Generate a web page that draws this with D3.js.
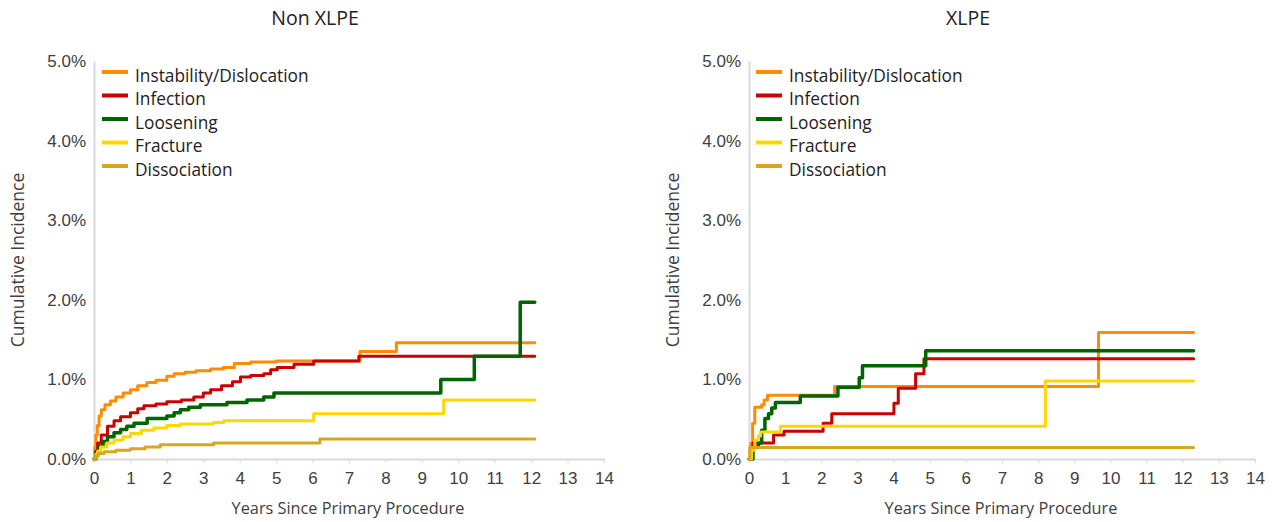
<!DOCTYPE html>
<html>
<head>
<meta charset="utf-8">
<script src="https://cdn.jsdelivr.net/npm/d3@7"></script>
<style>
  html, body { margin: 0; padding: 0; background: #fff; }
  svg { display: block; font-family: "Open Sans", "Noto Sans", sans-serif; }
</style>
</head>
<body>
<svg id="chart" width="1285" height="522"></svg>
<script>
// ---------------- DATA ----------------
const seriesNames = ["Instability/Dislocation", "Infection", "Loosening", "Fracture", "Dissociation"];
const seriesColors = ["#FF8C00", "#CC0000", "#006400", "#FFD700", "#DAA520"];
const panelTitles = ["Non XLPE", "XLPE"];
const xTicks = [0,1,2,3,4,5,6,7,8,9,10,11,12,13,14];
const yTicks = [0,1,2,3,4,5];

// Non XLPE: [years, cumulative incidence %]
const nonXlpeInstability = [[0,0],[0.02,0.15],[0.05,0.3],[0.09,0.42],[0.14,0.54],[0.2,0.62],[0.3,0.68],[0.45,0.73],[0.6,0.78],[0.8,0.83],[1.0,0.87],[1.2,0.92],[1.45,0.96],[1.7,0.99],[2.0,1.04],[2.2,1.07],[2.5,1.09],[2.8,1.11],[3.2,1.13],[3.55,1.15],[3.85,1.20],[4.3,1.22],[5.0,1.23],[7.3,1.35],[8.3,1.46],[12.1,1.46]];
const nonXlpeInfection = [[0,0],[0.05,0.1],[0.1,0.2],[0.2,0.3],[0.37,0.41],[0.55,0.48],[0.73,0.53],[1.0,0.58],[1.2,0.63],[1.37,0.67],[1.7,0.69],[2.0,0.72],[2.4,0.74],[2.74,0.78],[3.0,0.83],[3.2,0.87],[3.5,0.92],[3.8,0.97],[4.02,1.03],[4.3,1.05],[4.66,1.07],[4.85,1.12],[5.03,1.15],[5.49,1.19],[6.03,1.23],[7.27,1.29],[12.1,1.29]];
const nonXlpeLoosening = [[0,0],[0.05,0.08],[0.15,0.16],[0.25,0.22],[0.37,0.28],[0.55,0.33],[0.73,0.37],[0.9,0.41],[1.1,0.45],[1.46,0.51],[2.0,0.54],[2.2,0.58],[2.37,0.62],[2.6,0.65],[2.92,0.68],[3.65,0.71],[4.2,0.74],[4.66,0.78],[4.94,0.83],[9.52,1.00],[10.44,1.29],[11.7,1.97],[12.1,1.97]];
const nonXlpeFracture = [[0,0],[0.05,0.06],[0.1,0.1],[0.18,0.15],[0.35,0.2],[0.55,0.24],[0.8,0.28],[1.0,0.32],[1.3,0.36],[1.64,0.39],[2.0,0.42],[2.37,0.44],[3.28,0.46],[3.56,0.48],[6.03,0.57],[9.6,0.74],[12.1,0.74]];
const nonXlpeDissociation = [[0,0],[0.05,0.04],[0.12,0.07],[0.27,0.09],[0.6,0.11],[1.0,0.13],[1.4,0.15],[1.82,0.18],[3.28,0.20],[6.2,0.25],[12.1,0.25]];

// XLPE
const xlpeInstability = [[0,0],[0.05,0.2],[0.1,0.45],[0.16,0.65],[0.35,0.68],[0.42,0.74],[0.51,0.80],[2.37,0.91],[9.67,1.59],[12.3,1.59]];
const xlpeInfection = [[0,0],[0.05,0.1],[0.11,0.2],[0.68,0.30],[0.97,0.35],[2.05,0.45],[2.29,0.57],[4.01,0.70],[4.13,0.89],[4.61,1.07],[4.84,1.26],[12.3,1.26]];
const xlpeLoosening = [[0,0],[0.11,0.15],[0.26,0.2],[0.35,0.36],[0.44,0.51],[0.54,0.57],[0.63,0.64],[0.73,0.71],[1.42,0.79],[2.46,0.90],[3.05,1.02],[3.14,1.17],[4.89,1.36],[12.3,1.36]];
const xlpeFracture = [[0,0],[0.07,0.11],[0.16,0.24],[0.26,0.29],[0.32,0.34],[0.87,0.41],[8.2,0.98],[12.3,0.98]];
const xlpeDissociation = [[0,0],[0.02,0.145],[12.3,0.145]];

const panelSeries = [
  [nonXlpeInstability, nonXlpeInfection, nonXlpeLoosening, nonXlpeFracture, nonXlpeDissociation],
  [xlpeInstability, xlpeInfection, xlpeLoosening, xlpeFracture, xlpeDissociation]
];

// ---------------- LAYOUT ----------------
const panels = [
  { x0: 94, x1: 604, yTitleX: 18, legendX: 102, titleX: 315 },
  { x0: 749, x1: 1255, yTitleX: 673, legendX: 756, titleX: 968 }
];
const yTop = 61, yBottom = 459;

const svg = d3.select("#chart");
svg.append("rect").attr("width", 1285).attr("height", 522).attr("fill", "#fff");

panels.forEach((p, i) => {
  const g = svg.append("g");
  const x = d3.scaleLinear().domain([0, 14]).range([p.x0, p.x1]);
  const y = d3.scaleLinear().domain([0, 5]).range([yBottom, yTop]);

  // Axes
  const xAxis = d3.axisBottom(x).tickValues(xTicks).tickSize(4).tickSizeOuter(0).tickPadding(9).tickFormat(d3.format("d"));
  const gx = g.append("g").attr("transform", `translate(0,${yBottom})`).call(xAxis);
  const yAxis = d3.axisLeft(y).tickValues(yTicks).tickSize(4).tickSizeOuter(0).tickPadding(4).tickFormat(d => d3.format(".1%")(d / 100));
  const gy = g.append("g").attr("transform", `translate(${p.x0},0)`).call(yAxis);

  [gx, gy].forEach(ax => {
    ax.select(".domain").attr("stroke", "#d9d9d9").attr("stroke-width", 2);
    ax.selectAll(".tick line").attr("stroke", "#d9d9d9").attr("stroke-width", 1);
    ax.selectAll(".tick text").attr("fill", "#404040").style("font-size", "17px");
  });
  gy.selectAll(".tick line").remove();

  // Lines
  const line = d3.line().x(d => x(d[0])).y(d => y(d[1])).curve(d3.curveStepAfter);
  panelSeries[i].forEach((data, k) => {
    g.append("path").datum(data)
      .attr("d", line)
      .attr("fill", "none")
      .attr("stroke", seriesColors[k])
      .attr("stroke-width", k === 2 ? 3.5 : 3)
      .attr("stroke-linejoin", "round")
      .attr("stroke-linecap", "round");
  });

  // Titles
  g.append("text").attr("x", p.titleX).attr("y", 25)
    .attr("text-anchor", "middle").attr("fill", "#222").style("font-size", "19.5px")
    .text(panelTitles[i]);
  g.append("text").attr("x", (p.x0 + p.x1) / 2 - 1).attr("y", 514)
    .attr("text-anchor", "middle").attr("fill", "#404040").style("font-size", "16.3px")
    .text("Years Since Primary Procedure");
  g.append("text").attr("transform", `translate(${p.yTitleX + 6},${(yTop + yBottom) / 2})rotate(-90)`)
    .attr("text-anchor", "middle").attr("fill", "#404040").style("font-size", "17.5px")
    .text("Cumulative Incidence");

  // Legend
  const lg = g.append("g").attr("transform", `translate(${p.legendX},72)`);
  seriesNames.forEach((name, k) => {
    const row = lg.append("g").attr("transform", `translate(0,${k * 23.5})`);
    row.append("line").attr("x1", 0).attr("x2", 26).attr("y1", 0).attr("y2", 0)
      .attr("stroke", seriesColors[k]).attr("stroke-width", 4);
    row.append("text").attr("x", 33).attr("y", 9.5).attr("fill", "#222").style("font-size", "17.3px").text(name);
  });
});
</script>
</body>
</html>
